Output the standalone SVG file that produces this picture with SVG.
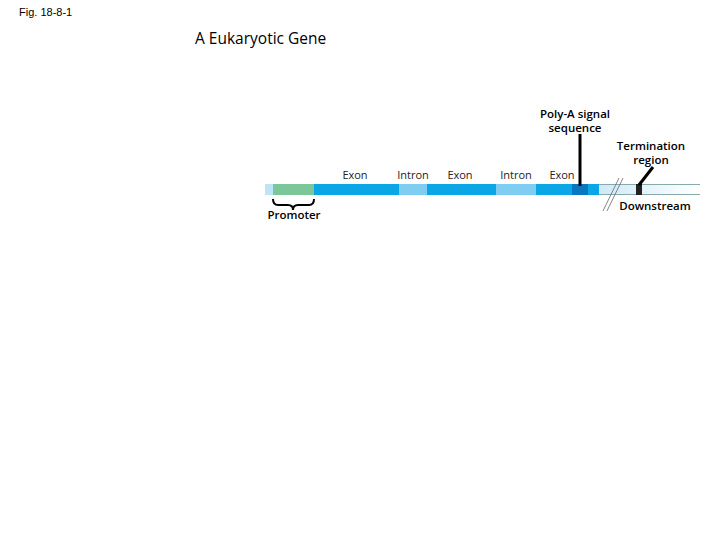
<svg xmlns="http://www.w3.org/2000/svg" width="720" height="540" viewBox="0 0 720 540">
<style>
.b{font-family:"Open Sans","Liberation Sans",sans-serif;font-size:11.5px;font-weight:600;fill:#000;text-anchor:middle}
.l{font-family:"Open Sans","Liberation Sans",sans-serif;font-size:11px;fill:#222;text-anchor:middle}
</style>
<defs><linearGradient id="fade" x1="0" x2="1"><stop offset="0" stop-color="#bfe3f7"/><stop offset="0.7" stop-color="#bfe3f7"/><stop offset="1" stop-color="#ffffff"/></linearGradient></defs>
<rect width="720" height="540" fill="#fff"/>
<text x="19" y="16" style="font-family:'Liberation Sans',sans-serif;font-size:11px">Fig. 18-8-1</text>
<text x="195" y="44" style="font-family:'Open Sans','Liberation Sans',sans-serif;font-size:15.5px">A Eukaryotic Gene</text>
<g id="dna">
<rect x="265" y="184" width="435" height="11" fill="url(#fade)"/>
<rect x="599" y="184" width="101" height="1" fill="#8aa"/>
<rect x="599" y="194" width="101" height="1" fill="#8aa"/>
<rect x="273" y="184" width="41" height="11" fill="#7cc79a"/>
<rect x="314" y="184" width="85" height="11" fill="#0aa6e6"/>
<rect x="399" y="184" width="28" height="11" fill="#7fcdf0"/>
<rect x="427" y="184" width="69" height="11" fill="#0aa6e6"/>
<rect x="496" y="184" width="40" height="11" fill="#7fcdf0"/>
<rect x="536" y="184" width="63" height="11" fill="#0aa6e6"/>
<rect x="572" y="184" width="16" height="11" fill="#0877c0"/>
<rect x="636" y="184" width="6" height="11" fill="#222"/>
</g>
<g id="breaks" stroke="#666" stroke-width="0.8">
<line x1="603" y1="211" x2="619" y2="178"/><line x1="607" y1="211" x2="623" y2="178"/>
</g>
<g id="connectors" stroke="#000" stroke-width="3" fill="none">
<line x1="580" y1="134" x2="580" y2="186"/>
<line x1="639" y1="185" x2="653" y2="167"/>
</g>
<g id="promoter-brace"><path d="M273 199 Q273 205 278 205 L288 205 Q293 205 293 210 Q293 205 298 205 L309 205 Q314 205 314 199" fill="none" stroke="#000" stroke-width="2"/></g>
<g id="labels">
<text class="l" x="355" y="179">Exon</text>
<text class="l" x="413" y="179">Intron</text>
<text class="l" x="460" y="179">Exon</text>
<text class="l" x="516" y="179">Intron</text>
<text class="l" x="562" y="179">Exon</text>
<text class="b" x="575" y="118">Poly-A signal</text>
<text class="b" x="575" y="132">sequence</text>
<text class="b" x="651" y="150">Termination</text>
<text class="b" x="651" y="164">region</text>
<text class="b" x="655" y="210">Downstream</text>
<text class="b" x="294" y="219">Promoter</text>
</g>
</svg>
